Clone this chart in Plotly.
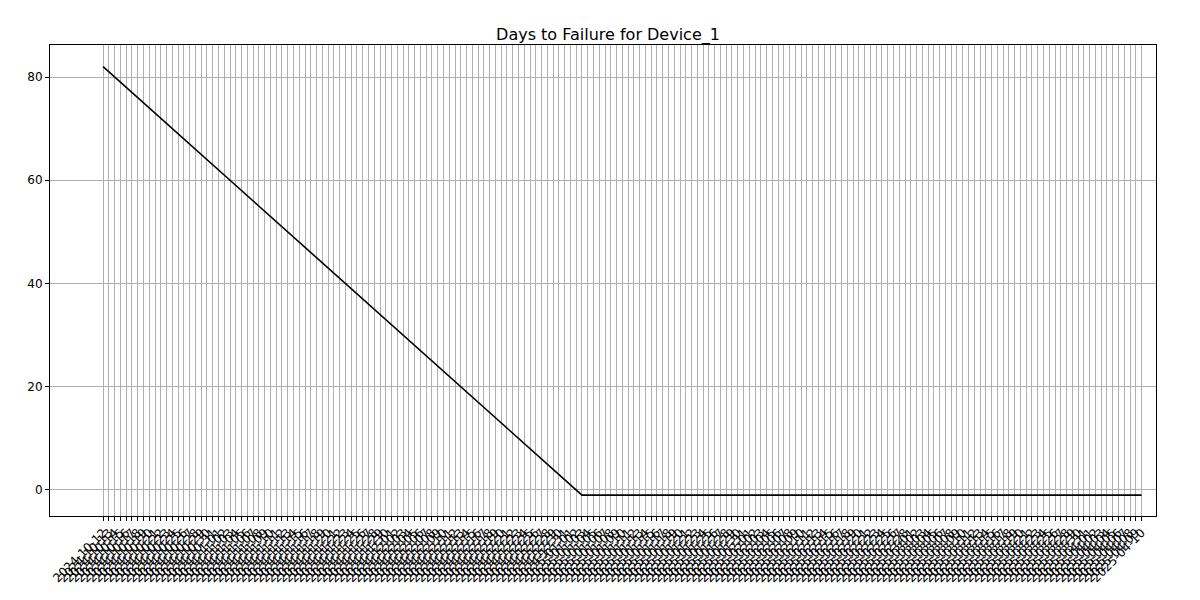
import plotly.graph_objects as go
import pandas as pd

dates = [d.strftime("%Y-%m-%d") for d in pd.date_range("2024-10-12", "2025-04-10", freq="D")]

days_to_failure = [
    82, 81, 80, 79, 78, 77, 76, 75, 74, 73, 72, 71, 70, 69, 68, 67, 66, 65, 64, 63,
    62, 61, 60, 59, 58, 57, 56, 55, 54, 53, 52, 51, 50, 49, 48, 47, 46, 45, 44, 43,
    42, 41, 40, 39, 38, 37, 36, 35, 34, 33, 32, 31, 30, 29, 28, 27, 26, 25, 24, 23,
    22, 21, 20, 19, 18, 17, 16, 15, 14, 13, 12, 11, 10, 9, 8, 7, 6, 5, 4, 3,
    2, 1, 0,
    -1, -1, -1, -1, -1, -1, -1, -1, -1, -1, -1, -1, -1, -1, -1, -1, -1, -1, -1, -1,
    -1, -1, -1, -1, -1, -1, -1, -1, -1, -1, -1, -1, -1, -1, -1, -1, -1, -1, -1, -1,
    -1, -1, -1, -1, -1, -1, -1, -1, -1, -1, -1, -1, -1, -1, -1, -1, -1, -1, -1, -1,
    -1, -1, -1, -1, -1, -1, -1, -1, -1, -1, -1, -1, -1, -1, -1, -1, -1, -1, -1, -1,
    -1, -1, -1, -1, -1, -1, -1, -1, -1, -1, -1, -1, -1, -1, -1, -1, -1, -1,
]

fig = go.Figure(go.Scatter(x=dates[:len(days_to_failure)], y=days_to_failure, mode="lines",
                           line=dict(color="black", width=1.6)))

axis_style = dict(showline=True, linecolor="black", mirror=True, showgrid=True,
                  gridcolor="#b0b0b0", gridwidth=1, ticks="outside", ticklen=4,
                  tickcolor="black", zeroline=False, automargin=False,
                  tickfont=dict(size=12, color="black"))

fig.update_layout(
    width=1200, height=600,
    margin=dict(l=42, r=52, t=37, b=92),
    plot_bgcolor="white", paper_bgcolor="white",
    font=dict(family="DejaVu Sans", size=12, color="black"),
    title=dict(text="Days to Failure for Device_1", x=0.5, xanchor="center", y=0.965,
               font=dict(size=16)),
    showlegend=False,
)
fig.update_xaxes(type="category", tickangle=-45, range=[-9.2, 182.5], tickmode="linear", dtick=1, **axis_style)
fig.update_yaxes(range=[-5.04, 86.2], tickvals=[0, 20, 40, 60, 80], **axis_style)

fig.write_html("out.html")
